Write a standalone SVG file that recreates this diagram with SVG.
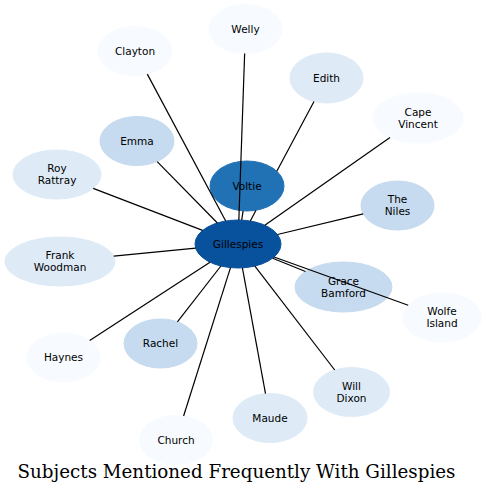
<svg xmlns="http://www.w3.org/2000/svg" width="486" height="501" viewBox="0 0 486 501">
<style>
.n text{font-family:"DejaVu Sans",Verdana,sans-serif;font-size:10.5px;text-anchor:middle;fill:#000}
.c0{fill:#f7fbff;stroke:#f7fbff}
.c1{fill:#deebf7;stroke:#deebf7}
.c2{fill:#c6dbef;stroke:#c6dbef}
.c3{fill:#2171b5;stroke:#2171b5}
.c4{fill:#08519c;stroke:#08519c}
.e{stroke:#000;stroke-width:1.2;fill:none}
.title{font-family:"DejaVu Serif",serif;font-size:18.3px;text-anchor:middle;fill:#000}
</style>
<rect width="486" height="501" fill="#fff"/>
<g id="nodes">
<g id="n-welly" class="n"><ellipse class="c0" cx="245.5" cy="29" rx="36.5" ry="24.5"/><text x="245.5" y="32.7">Welly</text></g>
<g id="n-clayton" class="n"><ellipse class="c0" cx="135" cy="51" rx="37" ry="24.5"/><text x="135" y="54.7">Clayton</text></g>
<g id="n-edith" class="n"><ellipse class="c1" cx="326.5" cy="78" rx="36.5" ry="25"/><text x="326.5" y="81.7">Edith</text></g>
<g id="n-capevincent" class="n"><ellipse class="c0" cx="418" cy="118" rx="45" ry="25"/><text x="418" y="115.7">Cape</text><text x="418" y="127.7">Vincent</text></g>
<g id="n-emma" class="n"><ellipse class="c2" cx="137" cy="141" rx="37" ry="24.5"/><text x="137" y="144.7">Emma</text></g>
<g id="n-royrattray" class="n"><ellipse class="c1" cx="57" cy="174.5" rx="44" ry="24.5"/><text x="57" y="172.2">Roy</text><text x="57" y="184.2">Rattray</text></g>
<g id="n-voltie" class="n"><ellipse class="c3" cx="247" cy="186" rx="37" ry="25"/><text x="247" y="189.7">Voltie</text></g>
<g id="n-theniles" class="n"><ellipse class="c2" cx="397.5" cy="205.5" rx="36.5" ry="24.5"/><text x="397.5" y="203.2">The</text><text x="397.5" y="215.2">Niles</text></g>
<g id="n-gillespies" class="n"><ellipse class="c4" cx="238" cy="244" rx="43" ry="24"/><text x="238" y="247.7">Gillespies</text></g>
<g id="n-frankwoodman" class="n"><ellipse class="c1" cx="60" cy="261.5" rx="55" ry="24.5"/><text x="60" y="259.2">Frank</text><text x="60" y="271.2">Woodman</text></g>
<g id="n-gracebamford" class="n"><ellipse class="c2" cx="343.5" cy="287" rx="48.5" ry="25"/><text x="343.5" y="284.7">Grace</text><text x="343.5" y="296.7">Bamford</text></g>
<g id="n-wolfeisland" class="n"><ellipse class="c0" cx="442" cy="317.5" rx="39" ry="24.5"/><text x="442" y="315.2">Wolfe</text><text x="442" y="327.2">Island</text></g>
<g id="n-haynes" class="n"><ellipse class="c0" cx="63.5" cy="357.5" rx="36.5" ry="24.5"/><text x="63.5" y="361.2">Haynes</text></g>
<g id="n-rachel" class="n"><ellipse class="c2" cx="160.5" cy="343.5" rx="36.5" ry="24.5"/><text x="160.5" y="347.2">Rachel</text></g>
<g id="n-willdixon" class="n"><ellipse class="c1" cx="351.5" cy="392" rx="38" ry="24.5"/><text x="351.5" y="389.7">Will</text><text x="351.5" y="401.7">Dixon</text></g>
<g id="n-maude" class="n"><ellipse class="c1" cx="270" cy="418" rx="37" ry="24.5"/><text x="270" y="421.7">Maude</text></g>
<g id="n-church" class="n"><ellipse class="c0" cx="176" cy="440" rx="36.5" ry="24.5"/><text x="176" y="443.7">Church</text></g>
</g>
<g id="connectors">
<path class="e" d="M244.65,53.5 L238.84,220"/>
<path class="e" d="M147.3,74.1 L225.7,221"/>
<path class="e" d="M314,101.5 L276.8,171.2 M256,210.3 L250.3,221"/>
<path class="e" d="M390,137.6 L264.8,225.2"/>
<path class="e" d="M157.2,161.6 L217.4,223"/>
<path class="e" d="M93.2,188.4 L202.6,230.4"/>
<path class="e" d="M363.2,213.8 L277.5,234.5"/>
<path class="e" d="M113.7,256.2 L195.7,248.2"/>
<path class="e" d="M305.5,271.5 L272.7,258.2"/>
<path class="e" d="M408.2,305.3 L274.1,257"/>
<path class="e" d="M89.7,340.5 L210,262.2"/>
<path class="e" d="M177.4,321.8 L220.9,266"/>
<path class="e" d="M183.6,416 L230.5,267.6"/>
<path class="e" d="M265.5,393.7 L242.4,267.9"/>
<path class="e" d="M334.7,370 L254.9,266.1"/>
<path class="e" d="M243.1,210.9 L241.7,220.1"/>
</g>
<text class="title" x="236.5" y="478">Subjects Mentioned Frequently With Gillespies</text>
</svg>
